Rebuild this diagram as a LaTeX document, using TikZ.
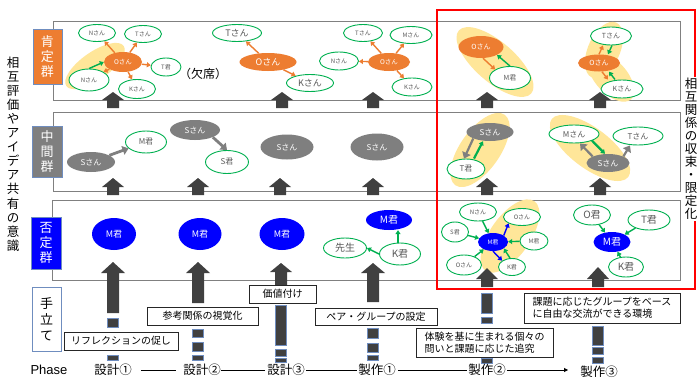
\documentclass[tikz,border=0pt]{standalone}
\usepackage{fontspec}
\setmainfont{Noto Sans CJK JP}
\newfontfamily\arialf{Liberation Sans}
\usetikzlibrary{shapes.geometric,arrows.meta}
\definecolor{orng}{HTML}{ED7D31}
\definecolor{grn}{HTML}{00B050}
\definecolor{hly}{HTML}{FFE699}
\definecolor{gnode}{HTML}{7F7F7F}
\definecolor{bnode}{HTML}{0000FF}
\definecolor{dark}{HTML}{404040}
\definecolor{tgray}{HTML}{595959}
\definecolor{slate}{HTML}{6F8DBF}
\definecolor{pline}{HTML}{808080}
\newcommand\fsz[1]{\fontsize{#1}{#1}\selectfont}
\newcommand\blkarr[6]{\fill[dark] (#1,#2) -- (#1+#5,#3) -- (#1+#6,#3) -- (#1+#6,#4) -- (#1-#6,#4) -- (#1-#6,#3) -- (#1-#5,#3) -- cycle;}
\newcommand\blk[3]{\filldraw[fill=dark,draw=slate,line width=0.4pt] (#1-5.5,#2) rectangle (#1+5.5,#3);}
\begin{document}
\begin{tikzpicture}[x=1pt,y=-1pt,
  sz/.style 2 args={minimum width=#1pt,minimum height=#2pt},
  wn/.style={ellipse,draw=grn,line width=0.9pt,fill=white,text=tgray,inner sep=0pt},
  on/.style={ellipse,fill=orng,text=white,inner sep=0pt},
  gn/.style={ellipse,fill=gnode,text=white,inner sep=0pt},
  bn/.style={ellipse,fill=bnode,text=white,inner sep=0pt},
  hl/.style={ellipse,fill=hly,inner sep=0pt},
  oarr/.style={draw=orng,line width=1.4pt,-{Triangle[length=4pt,width=5pt]}},
  garr/.style={draw=grn,line width=1.4pt,-{Triangle[length=4pt,width=5pt]}},
  barr/.style={draw=bnode,line width=1.4pt,-{Triangle[length=4pt,width=5pt]}},
  grarr/.style={draw=gnode,line width=2.8pt,-{Triangle[length=6pt,width=9pt]}},
  panel/.style={draw=pline,line width=0.8pt},
  lab/.style={draw=slate,line width=0.6pt,align=center,inner sep=0pt,font=\fontsize{13}{15}\selectfont},
  tbox/.style={draw=black!85,line width=0.8pt,fill=white,inner sep=0pt,font=\fsz{10}},
  phase/.style={font=\fontsize{12.5}{13}\selectfont,inner sep=0pt}
]
\useasboundingbox (0,0) rectangle (697,378);
\fill[white] (0,0) rectangle (697,378);

% panels
\draw[panel] (53,21) rectangle (680,100);
\draw[panel] (53,112) rectangle (680,191);
\draw[panel] (52,200) rectangle (680,280);

% side labels
\node[lab,fill=orng,text=white,sz={29}{55}] (lab1) at (47.5,56.5) {肯\\定\\群};
\node[lab,fill=gnode,text=white,sz={30}{51}] (lab2) at (47,151.5) {中\\間\\群};
\node[lab,fill=bnode,text=white,sz={30}{52}] (lab3) at (46,243) {否\\定\\群};
\node[lab,fill=white,text=black,sz={29}{64},font=\fontsize{13}{16}\selectfont] (lab4) at (46.5,319) {手\\立\\て};
\node[align=center,inner sep=0pt,font=\fontsize{12.5}{14.1}\selectfont] (lefttxt) at (13,154) {相\\互\\評\\価\\や\\ア\\イ\\デ\\ア\\共\\有\\の\\意\\識};

% ---------- top panel ----------
\node[hl,sz={70}{28},rotate=35] (hA) at (95,66) {};
\node[hl,sz={96}{40},rotate=-41] (hB) at (495,62) {};
\node[hl,sz={60}{32},rotate=66] (hC) at (604,50) {};
\node[hl,sz={60}{32},rotate=-48] (hD) at (611,77) {};

\node[wn,sz={37}{17},font=\fsz{6}] (n1) at (97,33) {Nさん};
\node[wn,sz={37}{17},font=\fsz{6}] (t1) at (143,34) {Tさん};
\node[on,sz={38}{20},font=\fsz{6.5}] (o1) at (123,62) {Oさん};
\node[wn,sz={30}{18},font=\fsz{6}] (tk1) at (166,67) {T君};
\node[wn,sz={40}{22},font=\fsz{6}] (n1b) at (89,80) {Nさん};
\node[wn,sz={37}{19},font=\fsz{6}] (k1) at (137,89) {Kさん};
\node[font=\fsz{12},inner sep=0pt] (abs) at (203,74) {（欠席）};
\draw[oarr] (o1) -- (n1);
\draw[oarr] (o1) -- (t1);
\draw[oarr] (o1) -- (tk1);
\draw[oarr] (o1) -- (k1);
\draw[oarr] (o1.south west) -- (n1b.north east);
\draw[garr] (n1b.north) -- (o1.west);

\node[wn,sz={49}{17},font=\fsz{9}] (t2) at (237,33) {Tさん};
\node[on,sz={57}{18},font=\fsz{9}] (o2) at (268,62) {Oさん};
\node[wn,sz={47}{17},font=\fsz{9}] (k2) at (310,83) {Kさん};
\draw[oarr] (o2) -- (t2);
\draw[oarr] (o2) -- (k2);

\node[wn,sz={39}{17},font=\fsz{6}] (t3) at (363,33) {Tさん};
\node[wn,sz={42}{17},font=\fsz{6}] (m3) at (411,35) {Mさん};
\node[wn,sz={39}{18},font=\fsz{6}] (n3) at (339,61) {Nさん};
\node[on,sz={42}{18},font=\fsz{6.5}] (o3) at (389,62) {Oさん};
\node[wn,sz={40}{18},font=\fsz{6}] (k3) at (412,87) {Kさん};
\draw[oarr] (o3) -- (t3);
\draw[oarr] (o3) -- (m3);
\draw[oarr] (o3) -- (n3);
\draw[oarr] (o3) -- (k3);

\node[on,sz={45}{22},font=\fsz{7}] (o5) at (481,47) {Oさん};
\node[wn,sz={41}{23},font=\fsz{7}] (m5) at (510,78) {M君};
\draw[oarr] ([xshift=2pt]o5.south) -- (m5.north west);
\draw[garr] (m5.north) -- (o5.south east);

\node[wn,sz={41}{18},font=\fsz{7}] (t6) at (611,36) {Tさん};
\node[on,sz={42}{17},font=\fsz{7}] (o6) at (599,63) {Oさん};
\node[wn,sz={42}{18},font=\fsz{7}] (k6) at (622,89) {Kさん};
\draw[oarr] (o6.north) -- ([xshift=-8pt]t6.south);
\draw[garr] ([xshift=1pt]t6.south) -- ([xshift=9pt]o6.north);
\draw[oarr] ([xshift=3pt]o6.south) -- ([xshift=-14pt]k6.north);
\draw[garr] ([xshift=-7pt]k6.north) -- ([xshift=10pt]o6.south);

% ---------- middle panel ----------
\node[hl,sz={86}{40},rotate=55] (hE) at (480,150) {};
\node[hl,sz={96}{40},rotate=-37] (hF) at (590,148) {};

\node[gn,sz={48}{20},font=\fsz{8}] (s1) at (91,162) {Sさん};
\node[wn,sz={41}{22},font=\fsz{8}] (mk1) at (146,142) {M君};
\draw[grarr] (s1) -- (mk1);
\node[gn,sz={50}{20},font=\fsz{8}] (s2) at (195,130) {Sさん};
\node[wn,sz={43}{23},font=\fsz{8}] (sk2) at (227,162) {S君};
\draw[grarr] (s2.south east) -- (sk2.north);
\node[gn,sz={53}{25},font=\fsz{8}] (s3) at (287,147) {Sさん};
\node[gn,sz={53}{27},font=\fsz{8}] (s4) at (377,147) {Sさん};

\node[gn,sz={47}{18},font=\fsz{8}] (s5) at (490,132) {Sさん};
\node[wn,sz={38}{20},font=\fsz{8}] (tk5) at (466,169) {T君};
\draw[grarr,line width=2.2pt] (s5.south west) -- ([xshift=-2pt]tk5.north);
\draw[garr,line width=2.2pt] ([xshift=8pt]tk5.north) -- ([xshift=-7pt]s5.south);

\node[wn,sz={50}{18},font=\fsz{8}] (mm6) at (574,134) {Mさん};
\node[wn,sz={50}{18},font=\fsz{8}] (tt6) at (638,136) {Tさん};
\node[gn,sz={43}{18},font=\fsz{8}] (ss6) at (608,163) {Sさん};
\draw[garr,line width=2.2pt] (mm6.south east) -- ([xshift=-3pt]ss6.north);
\draw[grarr,line width=2.2pt] (ss6.north west) -- ([xshift=6pt]mm6.south);
\draw[grarr,line width=2.2pt] (ss6.north east) -- ([xshift=-8pt]tt6.south);

% ---------- bottom panel ----------
\node[hl,sz={85}{40},rotate=55] (hG) at (510,236) {};

\node[bn,sz={44}{32},font=\fsz{9}] (mb1) at (114,234) {M君};
\node[bn,sz={43}{32},font=\fsz{9}] (mb2) at (200,234) {M君};
\node[bn,sz={45}{32},font=\fsz{9}] (mb3) at (282,234) {M君};

\node[bn,sz={46}{20},font=\fsz{10}] (mb4) at (389,220) {M君};
\node[wn,sz={41}{22},font=\fsz{10}] (kk4) at (400,254) {K君};
\node[wn,sz={43}{20},font=\fsz{10}] (sen) at (345,248) {先生};
\draw[garr] ([xshift=-2pt]kk4.north) -- ([xshift=9pt]mb4.south);
\draw[garr] (kk4.west) -- (sen.east);

\node[wn,sz={37}{18},font=\fsz{6}] (nb5) at (478,212) {Nさん};
\node[wn,sz={37}{17},font=\fsz{6}] (ob5) at (522,217) {Oさん};
\node[wn,sz={27}{20},font=\fsz{6}] (sb5) at (455,232) {S君};
\node[bn,sz={30}{18},font=\fsz{6}] (mb5) at (493,242) {M君};
\node[wn,sz={28}{18},font=\fsz{6}] (mw5) at (534,241) {M君};
\node[wn,sz={35}{20},font=\fsz{6}] (ob5b) at (464,265) {Oさん};
\node[wn,sz={27}{17},font=\fsz{6}] (kb5) at (512,267) {K君};
\draw[garr] (nb5) -- (mb5);
\draw[garr] (sb5) -- (mb5);
\draw[garr] (ob5b) -- (mb5);
\draw[garr] (mw5) -- (mb5);
\draw[garr] ([xshift=-2pt]kb5.north) -- (mb5.south east);
\draw[barr] (mb5.south) -- (kb5.north west);
\draw[barr] (mb5.north east) -- (ob5.south west);

\node[wn,sz={37}{20},font=\fsz{10}] (ob6) at (592,215) {O君};
\node[wn,sz={42}{20},font=\fsz{10}] (tb6) at (649,220) {T君};
\node[bn,sz={37}{20},font=\fsz{10}] (mb6) at (612,242) {M君};
\node[wn,sz={35}{20},font=\fsz{10}] (kb6) at (626,267) {K君};
\draw[garr] (ob6) -- (mb6);
\draw[garr] (tb6) -- (mb6);
\draw[garr] (kb6) -- (mb6);

% ---------- block arrows ----------
\blkarr{113}{92}{100}{108}{11}{6}
\blkarr{282}{92}{100}{108}{11}{6}
\blkarr{373}{92}{100}{108}{11}{6}
\blkarr{487}{92}{100}{108}{11}{6}
\blkarr{600}{92}{100}{108}{11}{6}

\blkarr{113}{178}{187}{195}{11}{6}
\blkarr{198}{178}{187}{195}{11}{6}
\blkarr{280}{178}{187}{195}{11}{6}
\blkarr{373}{178}{187}{195}{11}{6}
\blkarr{487}{178}{187}{195}{11}{6}
\blkarr{600}{178}{187}{195}{11}{6}

\blkarr{113}{262}{273}{313}{12}{6}
\blk{113}{318}{327}
\blk{113}{355}{360}
\blkarr{198}{262}{273}{303}{12}{6}
\blk{198}{329}{337}
\blk{198}{342}{351}
\blk{198}{355}{360}
\blkarr{281}{263}{272}{286}{11}{6}
\blk{281}{305}{345}
\blk{281}{349}{356}
\blk{281}{358}{362}
\blkarr{373}{263}{273}{302}{12}{6}
\blk{373}{328}{338}
\blk{373}{343}{352}
\blk{373}{355}{360}
\blkarr{487}{268}{279}{287}{11}{6}
\blk{487}{293}{313}
\blk{487}{317}{323}
\blk{487}{358}{363}
\blkarr{598}{267}{279}{287}{11}{6}
\blk{598}{326}{345}
\blk{598}{347}{354}
\blk{598}{357}{363}

% ---------- action boxes ----------
\node[tbox,sz={114}{18}] (lb1) at (121,341) {リフレクションの促し};
\node[tbox,sz={111}{18}] (lb2) at (202.5,316) {参考関係の視覚化};
\node[tbox,sz={67}{18}] (lb3) at (282.5,294) {価値付け};
\node[tbox,sz={122}{17}] (lb4) at (376,316.5) {ペア・グループの設定};
\node[tbox,sz={137}{29},align=left,font=\fontsize{10}{12}\selectfont] (lb5) at (484.5,342.5) {体験を基に生まれる個々の\\問いと課題に応じた追究};
\node[tbox,sz={156}{30},align=left,font=\fontsize{10}{12}\selectfont] (lb6) at (602,308) {課題に応じたグループをベース\\に自由な交流ができる環境};

% ---------- red frame ----------
\draw[red,line width=1.2pt] (437,10) rectangle (695,289);
\node[fill=white,align=center,inner sep=1pt,font=\fontsize{12.5}{13}\selectfont] (righttxt) at (691,149) {相\\互\\関\\係\\の\\収\\束\\・\\限\\定\\化};

% ---------- phase line ----------
\node[font=\arialf\fsz{13},inner sep=0pt] (phl) at (49,370) {Phase};
\node[phase] (ph1) at (113,370) {設計①};
\node[phase] (ph2) at (202,370) {設計②};
\node[phase] (ph3) at (286,370) {設計③};
\node[phase] (ph4) at (377,370) {製作①};
\node[phase] (ph5) at (487,370) {製作②};
\node[phase] (ph6) at (599,372) {製作③};
\draw[line width=0.8pt,shorten <=9pt,shorten >=7pt] (ph1.east) -- (ph2.west);
\draw[line width=0.8pt,shorten >=2pt] (ph2.east) -- (ph3.west);
\draw[line width=0.8pt,shorten <=1pt,shorten >=1pt] (ph3.east) -- (ph4.west);
\draw[line width=0.8pt,shorten <=2pt,shorten >=1pt] (ph4.east) -- (ph5.west);
\draw[line width=0.8pt,shorten <=1pt,shorten >=12pt,-{Triangle[length=4pt,width=4pt]}] (ph5.east) -- (ph6.west |- ph5.east);
\end{tikzpicture}
\end{document}
